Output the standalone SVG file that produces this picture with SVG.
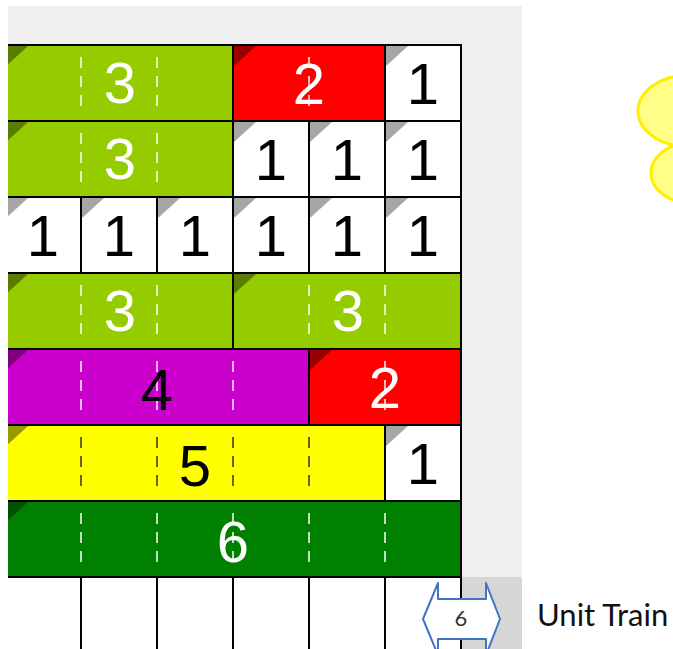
<svg xmlns="http://www.w3.org/2000/svg" width="673" height="649" viewBox="0 0 673 649">
<defs>
<style>
.rod{stroke:#000;stroke-width:2}
.num{font-family:"Liberation Sans",Arial,sans-serif;font-size:58px;text-anchor:middle}
.w{fill:#fff}
.k{fill:#000}
.dl{stroke:#fff;stroke-opacity:.75;stroke-width:2;stroke-dasharray:11 8}
.dd{stroke:#000;stroke-opacity:.6;stroke-width:2;stroke-dasharray:11 8}
.lg{fill:#94cc00}.lgt{fill:#5a7d00}
.rd{fill:#ff0000}.rdt{fill:#990000}
.wh{fill:#ffffff}.wht{fill:#a6a6a6}
.pu{fill:#cc00cc}.put{fill:#800080}
.ye{fill:#ffff00}.yet{fill:#999900}
.dg{fill:#008000}.dgt{fill:#005200}
.grid{stroke:#000;stroke-width:2}
</style>
<clipPath id="clip"><rect x="8" y="0" width="665" height="649"/></clipPath>
</defs>
<rect x="0" y="0" width="673" height="649" fill="#fff"/>
<rect x="8" y="6" width="514" height="571" fill="#efefef"/>
<rect x="462" y="577" width="60" height="72" fill="#d6d6d6"/>
<g clip-path="url(#clip)">
<g id="row1-3"><rect class="rod lg" x="5" y="45" width="228" height="76"/><polygon class="lgt" points="6,46 28,46 6,66"/><line class="dl" x1="81" y1="57" x2="81" y2="109"/><line class="dl" x1="157" y1="57" x2="157" y2="109"/><text class="num w" x="120" y="103">3</text></g>
<g id="row1-2"><rect class="rod rd" x="233" y="45" width="152" height="76"/><polygon class="rdt" points="234,46 256,46 234,66"/><text class="num w" x="309" y="104">2</text><line class="dl" x1="309" y1="57" x2="309" y2="109"/></g>
<g id="row1-1"><rect class="rod wh" x="385" y="45" width="76" height="76"/><polygon class="wht" points="386,46 408,46 386,66"/><text class="num k" x="423" y="104">1</text></g>

<g id="row2-3"><rect class="rod lg" x="5" y="121" width="228" height="76"/><polygon class="lgt" points="6,122 28,122 6,142"/><line class="dl" x1="81" y1="133" x2="81" y2="185"/><line class="dl" x1="157" y1="133" x2="157" y2="185"/><text class="num w" x="120" y="179">3</text></g>
<g id="row2-1a"><rect class="rod wh" x="233" y="121" width="76" height="76"/><polygon class="wht" points="234,122 256,122 234,142"/><text class="num k" x="271" y="180">1</text></g>
<g id="row2-1b"><rect class="rod wh" x="309" y="121" width="76" height="76"/><polygon class="wht" points="310,122 332,122 310,142"/><text class="num k" x="347" y="180">1</text></g>
<g id="row2-1c"><rect class="rod wh" x="385" y="121" width="76" height="76"/><polygon class="wht" points="386,122 408,122 386,142"/><text class="num k" x="423" y="180">1</text></g>

<g id="row3-1a"><rect class="rod wh" x="5" y="197" width="76" height="76"/><polygon class="wht" points="6,198 28,198 6,218"/><text class="num k" x="43" y="256">1</text></g>
<g id="row3-1b"><rect class="rod wh" x="81" y="197" width="76" height="76"/><polygon class="wht" points="82,198 104,198 82,218"/><text class="num k" x="119" y="256">1</text></g>
<g id="row3-1c"><rect class="rod wh" x="157" y="197" width="76" height="76"/><polygon class="wht" points="158,198 180,198 158,218"/><text class="num k" x="195" y="256">1</text></g>
<g id="row3-1d"><rect class="rod wh" x="233" y="197" width="76" height="76"/><polygon class="wht" points="234,198 256,198 234,218"/><text class="num k" x="271" y="256">1</text></g>
<g id="row3-1e"><rect class="rod wh" x="309" y="197" width="76" height="76"/><polygon class="wht" points="310,198 332,198 310,218"/><text class="num k" x="347" y="256">1</text></g>
<g id="row3-1f"><rect class="rod wh" x="385" y="197" width="76" height="76"/><polygon class="wht" points="386,198 408,198 386,218"/><text class="num k" x="423" y="256">1</text></g>

<g id="row4-3a"><rect class="rod lg" x="5" y="273" width="228" height="76"/><polygon class="lgt" points="6,274 28,274 6,294"/><line class="dl" x1="81" y1="285" x2="81" y2="337"/><line class="dl" x1="157" y1="285" x2="157" y2="337"/><text class="num w" x="120" y="331">3</text></g>
<g id="row4-3b"><rect class="rod lg" x="233" y="273" width="228" height="76"/><polygon class="lgt" points="234,274 256,274 234,294"/><line class="dl" x1="309" y1="285" x2="309" y2="337"/><line class="dl" x1="385" y1="285" x2="385" y2="337"/><text class="num w" x="348" y="331">3</text></g>

<g id="row5-4"><rect class="rod pu" x="5" y="349" width="304" height="76"/><polygon class="put" points="6,350 28,350 6,370"/><line class="dl" x1="81" y1="361" x2="81" y2="413"/><line class="dl" x1="157" y1="361" x2="157" y2="413"/><line class="dl" x1="233" y1="361" x2="233" y2="413"/><text class="num k" x="157" y="410">4</text></g>
<g id="row5-2"><rect class="rod rd" x="309" y="349" width="152" height="76"/><polygon class="rdt" points="310,350 332,350 310,370"/><text class="num w" x="385" y="408">2</text><line class="dl" x1="385" y1="361" x2="385" y2="413"/></g>

<g id="row6-5"><rect class="rod ye" x="5" y="425" width="380" height="76"/><polygon class="yet" points="6,426 28,426 6,446"/><line class="dd" x1="81" y1="437" x2="81" y2="489"/><line class="dd" x1="157" y1="437" x2="157" y2="489"/><line class="dd" x1="233" y1="437" x2="233" y2="489"/><line class="dd" x1="309" y1="437" x2="309" y2="489"/><text class="num k" x="195" y="486">5</text></g>
<g id="row6-1"><rect class="rod wh" x="385" y="425" width="76" height="76"/><polygon class="wht" points="386,426 408,426 386,446"/><text class="num k" x="423" y="484">1</text></g>

<g id="row7-6"><rect class="rod dg" x="5" y="501" width="456" height="76"/><polygon class="dgt" points="6,502 28,502 6,522"/><line class="dl" x1="81" y1="513" x2="81" y2="565"/><line class="dl" x1="157" y1="513" x2="157" y2="565"/><line class="dl" x1="309" y1="513" x2="309" y2="565"/><line class="dl" x1="385" y1="513" x2="385" y2="565"/><text class="num w" x="233" y="562">6</text><line class="dl" x1="233" y1="513" x2="233" y2="565"/></g>

<g id="bottom-row"><rect x="5" y="577" width="456" height="80" fill="#fff" class="grid"/><line class="grid" x1="81" y1="577" x2="81" y2="649"/><line class="grid" x1="157" y1="577" x2="157" y2="649"/><line class="grid" x1="233" y1="577" x2="233" y2="649"/><line class="grid" x1="309" y1="577" x2="309" y2="649"/><line class="grid" x1="385" y1="577" x2="385" y2="649"/></g>
</g>

<g id="cloud">
<ellipse cx="691" cy="173" rx="40" ry="30" fill="#ffff88" stroke="#ffee00" stroke-width="3"/>
<ellipse cx="690" cy="111" rx="52" ry="36" fill="#ffff88" stroke="#ffee00" stroke-width="3"/>
</g>

<g id="unit-arrow">
<path d="M423,619 L438,583 L438,599 L486,599 L486,583 L500,619 L486,655 L486,639 L438,639 L438,655 Z" fill="#fff" stroke="#4472c4" stroke-width="2" stroke-linejoin="round"/>
<text x="461" y="626" font-family="Lato,'Liberation Sans',sans-serif" font-size="22" fill="#333" text-anchor="middle">6</text>
</g>
<g id="label"><text x="537" y="626" font-family="Lato,'Liberation Sans',sans-serif" font-size="31" fill="#111">Unit Train</text></g>
</svg>
